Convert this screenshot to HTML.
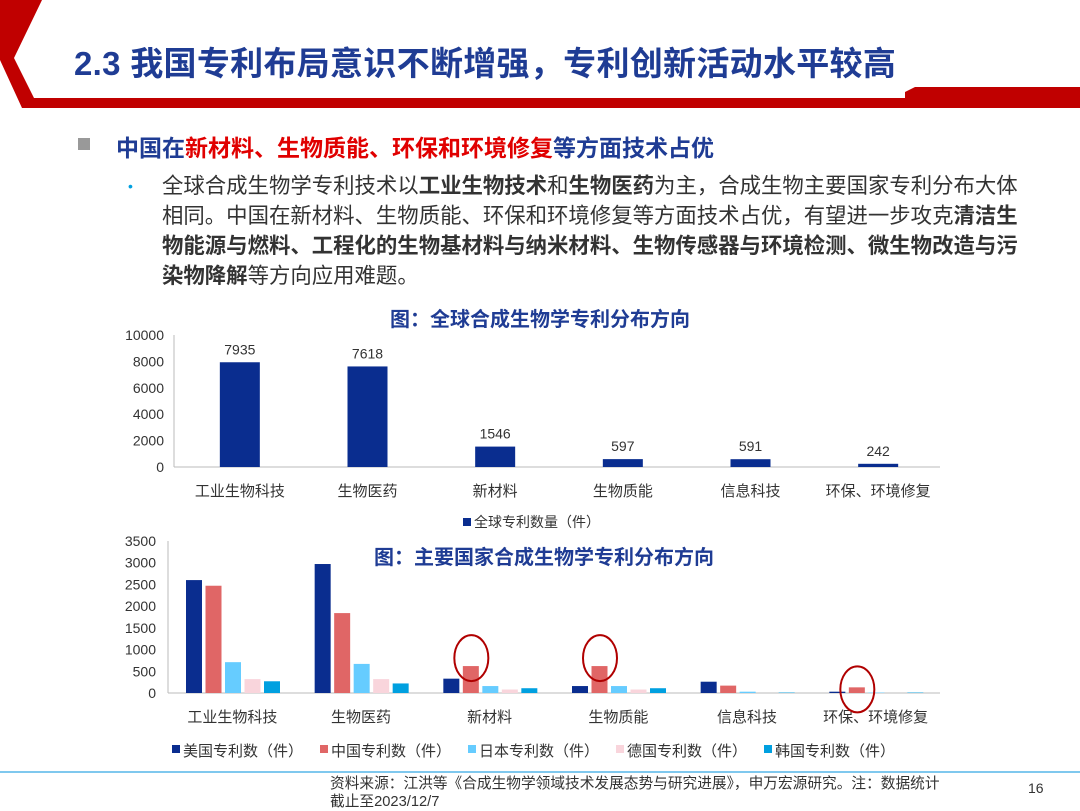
<!DOCTYPE html>
<html><head><meta charset="utf-8">
<style>
body{margin:0;width:1080px;height:810px;background:#fff;overflow:hidden;font-family:"Liberation Sans","Noto Sans CJK SC",sans-serif;position:relative}
.abs{position:absolute}
</style></head><body>
<svg class="abs" style="left:0;top:0" width="1080" height="130">
<polygon points="0,0 42,0 14,58 34,98 1080,98 1080,108 22,108 0,60" fill="#c00000"/>
<polygon points="905,92 915,87 1080,87 1080,98 905,98" fill="#c00000"/>
</svg>
<div class="abs" style="left:74px;top:37px;font-size:33px;font-weight:bold;color:#1f3c94;letter-spacing:0.3px">2.3 我国专利布局意识不断增强，专利创新活动水平较高</div>
<div class="abs" style="left:78px;top:138px;width:12px;height:12px;background:#999"></div>
<div class="abs" style="left:116px;top:129px;font-size:23px;font-weight:bold;color:#1f3c94">中国在<span style="color:#e00000">新材料、生物质能、环保和环境修复</span>等方面技术占优</div>
<div class="abs" style="left:128px;top:178px;color:#00a0e0;font-size:14px">•</div>
<div class="abs" style="left:162px;top:171px;width:868px;font-size:21.4px;line-height:30px;color:#333">全球合成生物学专利技术以<b>工业生物技术</b>和<b>生物医药</b>为主，合成生物主要国家专利分布大体相同。中国在新材料、生物质能、环保和环境修复等方面技术占优，有望进一步攻克<b>清洁生物能源与燃料、工程化的生物基材料与纳米材料、生物传感器与环境检测、微生物改造与污染物降解</b>等方向应用难题。</div>
<div class="abs" style="left:390px;top:303px;font-size:20px;font-weight:bold;color:#1f3c94">图：全球合成生物学专利分布方向</div>
<div class="abs" style="left:374px;top:541px;font-size:20px;font-weight:bold;color:#1f3c94">图：主要国家合成生物学专利分布方向</div>
<svg id="c" class="abs" style="left:0;top:0" width="1080" height="810"></svg>
<div class="abs" style="left:0;top:771px;width:1080px;height:2px;background:#7fc8ee"></div>
<div class="abs" style="left:330px;top:775px;font-size:14.7px;line-height:18px;color:#333;width:700px">资料来源：江洪等《合成生物学领域技术发展态势与研究进展》，申万宏源研究。注：数据统计<br>截止至2023/12/7</div>
<div class="abs" style="left:1028px;top:780px;font-size:14px;color:#333">16</div>
<script>
const categories=["工业生物科技","生物医药","新材料","生物质能","信息科技","环保、环境修复"];
const globalValues=[7935,7618,1546,597,591,242];
const yTicks1=[0,2000,4000,6000,8000,10000];
const seriesNames=["美国专利数（件）","中国专利数（件）","日本专利数（件）","德国专利数（件）","韩国专利数（件）"];
const usValues=[2600,2970,330,160,260,30];
const cnValues=[2470,1840,620,620,170,130];
const jpValues=[710,670,160,160,30,10];
const deValues=[320,320,80,80,0,0];
const krValues=[270,220,110,110,10,10];
const yTicks2=[0,500,1000,1500,2000,2500,3000,3500];
const colors=["#0a2d8f","#e06666","#66ccff","#f9d5dc","#00a0e0"];
const svg=document.getElementById('c');const NS="http://www.w3.org/2000/svg";
function mk(t,a,txt){const e=document.createElementNS(NS,t);for(const k in a)e.setAttribute(k,a[k]);if(txt!==undefined)e.textContent=txt;svg.appendChild(e);return e;}
const x1L=174,x1R=940,y1=v=>467-v/10000*132,bw1=(x1R-x1L)/categories.length;
yTicks1.forEach(t=>{const e=mk('text',{x:164,y:y1(t)+5,'text-anchor':'end','font-size':14,fill:'#333'},t);
});
mk('line',{x1:x1L,x2:x1L,y1:y1(10000),y2:467,stroke:'#bbb'});
mk('line',{x1:x1L,x2:x1R,y1:467,y2:467,stroke:'#bbb'});
categories.forEach((c,i)=>{const cx=x1L+bw1*(i+0.5)+2;const v=globalValues[i];
const r=mk('rect',{x:cx-20,y:y1(v),width:40,height:467-y1(v),fill:colors[0]});

const l=mk('text',{x:cx,y:y1(v)-8,'text-anchor':'middle','font-size':14,fill:'#333'},v);

const t=mk('text',{x:cx,y:496,'text-anchor':'middle','font-size':15,fill:'#333'},c);
});
mk('rect',{x:463,y:518,width:8,height:8,fill:colors[0]});
const lg=mk('text',{x:474,y:527,'font-size':14,fill:'#333'},'全球专利数量（件）');

const x2L=168,x2R=940,y2=v=>693-v/3500*152,bw2=(x2R-x2L)/categories.length;
yTicks2.forEach(t=>{const e=mk('text',{x:156,y:y2(t)+5,'text-anchor':'end','font-size':14,fill:'#333'},t);
});
mk('line',{x1:x2L,x2:x2L,y1:y2(3500),y2:693,stroke:'#bbb'});
mk('line',{x1:x2L,x2:x2R,y1:693,y2:693,stroke:'#bbb'});
const series=[usValues,cnValues,jpValues,deValues,krValues];
categories.forEach((c,i)=>{const gx=x2L+bw2*i+18;
series.forEach((s,j)=>{const v=s[i];const r=mk('rect',{x:gx+j*19.5,y:y2(v),width:16,height:693-y2(v),fill:colors[j]});
});
const t=mk('text',{x:x2L+bw2*(i+0.5),y:722,'text-anchor':'middle','font-size':15,fill:'#333'},c);

if(i>=2&&i!==4){const cx=gx+20+8;const e=mk('ellipse',{cx:cx,cy:y2(cnValues[i])-(i==5?-2:8),rx:17,ry:23,fill:'none',stroke:'#b00000','stroke-width':2});
}});
const lx=[172,320,468,616,764];
seriesNames.forEach((n,j)=>{mk('rect',{x:lx[j],y:745,width:8,height:8,fill:colors[j]});
const t=mk('text',{x:lx[j]+11,y:756,'font-size':15,fill:'#333'},n);
});
</script>
</body></html>
